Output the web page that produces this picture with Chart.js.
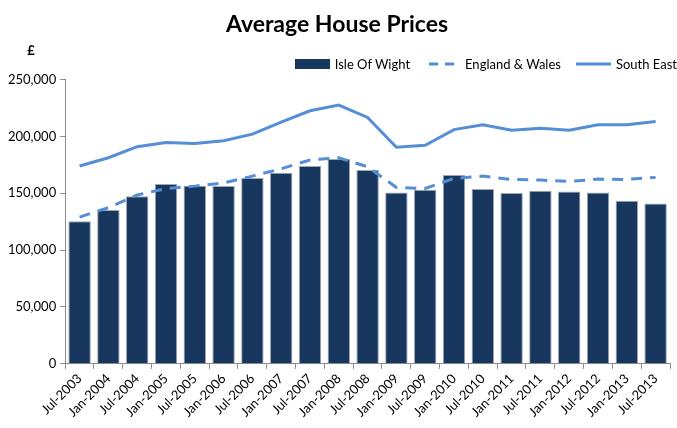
<!DOCTYPE html>
<html>
<head>
<meta charset="utf-8">
<script src="https://cdn.jsdelivr.net/npm/chart.js@4"></script>
<style>
  html, body { margin: 0; padding: 0; background: #fff; }
  #wrap { width: 677px; height: 428px; position: relative; }
  .legend { position: absolute; top: 56px; right: 0px; display: flex; align-items: center;
            font: 13px Lato, "Open Sans", sans-serif; color: #000; }
  .legend .item { display: flex; align-items: center; margin-left: 15px; }
  .legend .swatch { width: 35px; height: 10px; margin-right: 5px; }
  .legend svg { display: block; margin-right: 5px; }
</style>
</head>
<body>
<div id="wrap">
  <canvas id="priceChart"></canvas>
  <div class="legend" id="legend"></div>
</div>
<script>
// Data
const periods = ['Jul-2003', 'Jan-2004', 'Jul-2004', 'Jan-2005', 'Jul-2005', 'Jan-2006', 'Jul-2006',
    'Jan-2007', 'Jul-2007', 'Jan-2008', 'Jul-2008', 'Jan-2009', 'Jul-2009', 'Jan-2010', 'Jul-2010',
    'Jan-2011', 'Jul-2011', 'Jan-2012', 'Jul-2012', 'Jan-2013', 'Jul-2013'];
const isleOfWight = [125400, 135200, 147500, 158100, 156600, 156400, 163400, 168000, 174000, 180200, 170500,
    150800, 153100, 166100, 153700, 150200, 152200, 151600, 150800, 143400, 141000];
const englandWales = [129100, 137400, 148500, 154200, 156300, 159200, 165100, 171600, 179300, 181300, 173300,
    155100, 154200, 163100, 165100, 162200, 161600, 160400, 162500, 162200, 164000];
const southEast = [174000, 181300, 191000, 194600, 193700, 196300, 202000, 212600, 222600, 227600, 216700,
    190500, 192200, 206000, 210200, 205500, 207300, 205500, 210200, 210200, 213100];
const yTicks = [0, 50000, 100000, 150000, 200000, 250000];

const navy = '#17375E';
const blue = '#558ED5';
const axisGrey = '#8C8C8C';
const fontFamily = 'Lato, "Open Sans", sans-serif';

Chart.defaults.font.family = fontFamily;
Chart.defaults.color = '#000';

// little "£" unit label above the y axis
const poundLabel = {
    id: 'poundLabel',
    afterDraw: function (chart) {
        const ctx = chart.ctx;
        ctx.save();
        ctx.font = 'bold 13px ' + fontFamily;
        ctx.fillStyle = '#000';
        ctx.textAlign = 'center';
        ctx.textBaseline = 'middle';
        ctx.fillText('£', 31, 51);
        ctx.restore();
    }
};

const chart = new Chart(document.getElementById('priceChart'), {
    data: {
        labels: periods,
        datasets: [{
            type: 'bar',
            label: 'Isle Of Wight',
            data: isleOfWight,
            backgroundColor: navy,
            borderColor: '#A0A8B4',
            borderWidth: 1,
            barPercentage: 0.78,
            categoryPercentage: 1,
            order: 2
        }, {
            type: 'line',
            label: 'England & Wales',
            data: englandWales,
            borderColor: blue,
            backgroundColor: blue,
            borderWidth: 3,
            borderDash: [11, 8],
            pointRadius: 0,
            tension: 0,
            order: 1
        }, {
            type: 'line',
            label: 'South East',
            data: southEast,
            borderColor: blue,
            backgroundColor: blue,
            borderWidth: 3,
            pointRadius: 0,
            tension: 0,
            order: 0
        }]
    },
    options: {
        responsive: true,
        maintainAspectRatio: false,
        animation: false,
        layout: { padding: { left: 4, right: 7, top: 4, bottom: 6 } },
        plugins: {
            title: {
                display: true,
                text: 'Average House Prices',
                font: { size: 23, weight: 'bold' },
                color: '#000',
                padding: { top: 7, bottom: 41 }
            },
            legend: { display: false },
            tooltip: { enabled: false }
        },
        scales: {
            x: {
                offset: true,
                grid: {
                    display: true,
                    offset: true,
                    drawOnChartArea: false,
                    drawTicks: true,
                    tickLength: 5,
                    tickColor: axisGrey
                },
                border: { color: axisGrey, width: 1 },
                ticks: {
                    autoSkip: false,
                    minRotation: 45,
                    maxRotation: 45,
                    font: { size: 13 },
                    padding: 2
                }
            },
            y: {
                min: 0,
                max: 250000,
                afterBuildTicks: function (axis) {
                    axis.ticks = yTicks.map(function (v) { return { value: v }; });
                },
                grid: {
                    display: true,
                    drawOnChartArea: false,
                    drawTicks: true,
                    tickLength: 5,
                    tickColor: axisGrey
                },
                border: { color: axisGrey, width: 1 },
                ticks: {
                    font: { size: 13 },
                    padding: 4,
                    callback: function (v) { return v.toLocaleString('en-GB'); }
                }
            }
        }
    },
    plugins: [poundLabel]
});

// HTML legend built from the datasets, so the dashed sample really is dashed
const legendEl = document.getElementById('legend');
chart.data.datasets.forEach(function (ds) {
    const item = document.createElement('div');
    item.className = 'item';
    if (ds.type === 'bar') {
        const sw = document.createElement('div');
        sw.className = 'swatch';
        sw.style.background = ds.backgroundColor;
        item.appendChild(sw);
    } else {
        const dash = ds.borderDash ? ' stroke-dasharray="9 7"' : '';
        item.innerHTML = '<svg width="35" height="10"><line x1="' + (ds.borderDash ? 4 : 0) +
            '" y1="5" x2="35" y2="5" stroke="' + ds.borderColor + '" stroke-width="3"' + dash + '/></svg>';
    }
    const txt = document.createElement('span');
    txt.textContent = ds.label;
    item.appendChild(txt);
    legendEl.appendChild(item);
});
</script>
</body>
</html>
